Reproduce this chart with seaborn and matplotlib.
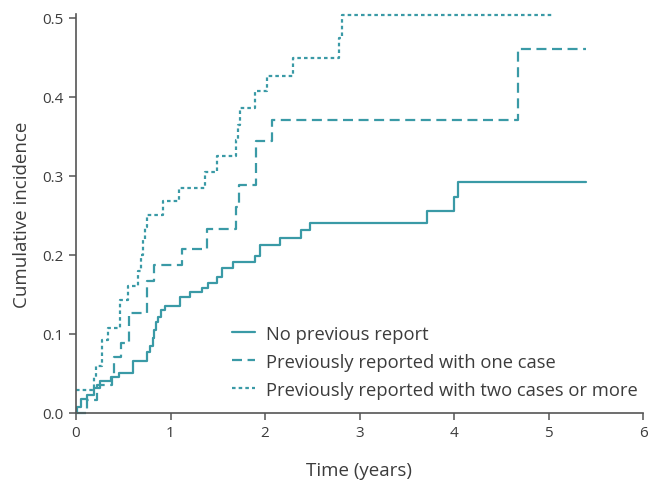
import numpy as np
import pandas as pd
import matplotlib
matplotlib.use("Agg")
import matplotlib.pyplot as plt
import seaborn as sns

# ---- data ----
t_none = [0.00, 0.01, 0.05, 0.12, 0.19, 0.25, 0.37, 0.46, 0.60, 0.75, 0.78, 0.81, 0.83,
          0.85, 0.87, 0.90, 0.94, 1.10, 1.21, 1.33, 1.40, 1.49, 1.55, 1.66, 1.89, 1.95,
          2.16, 2.38, 2.48, 3.71, 4.00, 4.04, 5.40]
v_none = [0.000, 0.008, 0.018, 0.023, 0.032, 0.041, 0.046, 0.051, 0.066, 0.077, 0.085, 0.095, 0.105,
          0.115, 0.122, 0.130, 0.136, 0.147, 0.153, 0.158, 0.165, 0.172, 0.184, 0.191, 0.199, 0.213,
          0.221, 0.231, 0.240, 0.256, 0.274, 0.293, 0.293]

t_one = [0.00, 0.12, 0.22, 0.38, 0.40, 0.48, 0.56, 0.75, 0.83, 1.12, 1.39, 1.69, 1.72,
         1.91, 2.07, 4.68, 5.40]
v_one = [0.000, 0.016, 0.035, 0.049, 0.071, 0.089, 0.127, 0.167, 0.187, 0.208, 0.233, 0.261, 0.289,
         0.344, 0.371, 0.461, 0.461]

t_two = [0.00, 0.19, 0.21, 0.27, 0.34, 0.47, 0.55, 0.66, 0.69, 0.71, 0.73, 0.75, 0.92, 1.09,
         1.365, 1.49, 1.69, 1.71, 1.735, 1.89, 2.02, 2.30, 2.78, 2.81, 5.05]
v_two = [0.029, 0.045, 0.059, 0.092, 0.108, 0.143, 0.161, 0.180, 0.200, 0.220, 0.235, 0.250, 0.268, 0.285,
         0.305, 0.325, 0.345, 0.365, 0.386, 0.407, 0.427, 0.449, 0.475, 0.504, 0.504]

labels = ["No previous report",
          "Previously reported with one case",
          "Previously reported with two cases or more"]

df = pd.concat([
    pd.DataFrame({"Time": t_none, "CI": v_none, "Group": labels[0]}),
    pd.DataFrame({"Time": t_one, "CI": v_one, "Group": labels[1]}),
    pd.DataFrame({"Time": t_two, "CI": v_two, "Group": labels[2]}),
], ignore_index=True)

sns.set_theme(style="ticks")
plt.rcParams['font.family'] = ['Open Sans', 'DejaVu Sans']

color = "#3a9aa6"
text_col = "#3c3c3c"
spine_col = "#555555"

fig = plt.figure(figsize=(6.48, 4.85), dpi=100)
ax = fig.add_axes([76/648, 1-414/485, (643-76)/648, (414-15)/485])

styles = {labels[0]: (None, "-"),
          labels[1]: ((4.5, 2.5), "--"),
          labels[2]: ((1.6, 1.4), ":")}
for lab in labels:
    sub = df[df["Group"] == lab]
    dash, ls = styles[lab]
    line_kw = dict(drawstyle="steps-post", color=color, linewidth=1.6, label=lab,
                   clip_on=False, estimator=None, sort=False)
    sns.lineplot(data=sub, x="Time", y="CI", ax=ax, **line_kw)
    ln = ax.lines[-1]
    if dash is not None:
        ln.set_dashes(dash)

ax.set_xlim(0, 6)
ax.set_ylim(0, 0.505)
ax.set_xticks([0, 1, 2, 3, 4, 5, 6])
ax.set_xticklabels(["0", "1", "2", "3", "4", "5", "6"])
ax.set_yticks([0.0, 0.1, 0.2, 0.3, 0.4, 0.5])
ax.set_yticklabels(["0.0", "0.1", "0.2", "0.3", "0.4", "0.5"])

sns.despine(ax=ax)
for s in ["left", "bottom"]:
    ax.spines[s].set_color(spine_col)
    ax.spines[s].set_linewidth(1.2)
ax.tick_params(axis="both", direction="out", length=5, width=1.1, color=spine_col,
               labelsize=11, labelcolor=text_col, pad=4)

ax.set_xlabel("Time (years)", fontsize=13.5, color=text_col, labelpad=15)
ax.set_ylabel("Cumulative incidence", fontsize=13.5, color=text_col, labelpad=8)

leg = ax.legend(loc="upper left", bbox_to_anchor=(0.263, 0.24), frameon=False,
                fontsize=13.2, handlelength=1.25, handletextpad=0.6, labelspacing=0.55,
                borderaxespad=0)
for txt in leg.get_texts():
    txt.set_color(text_col)

fig.savefig("out.png", dpi=100)
